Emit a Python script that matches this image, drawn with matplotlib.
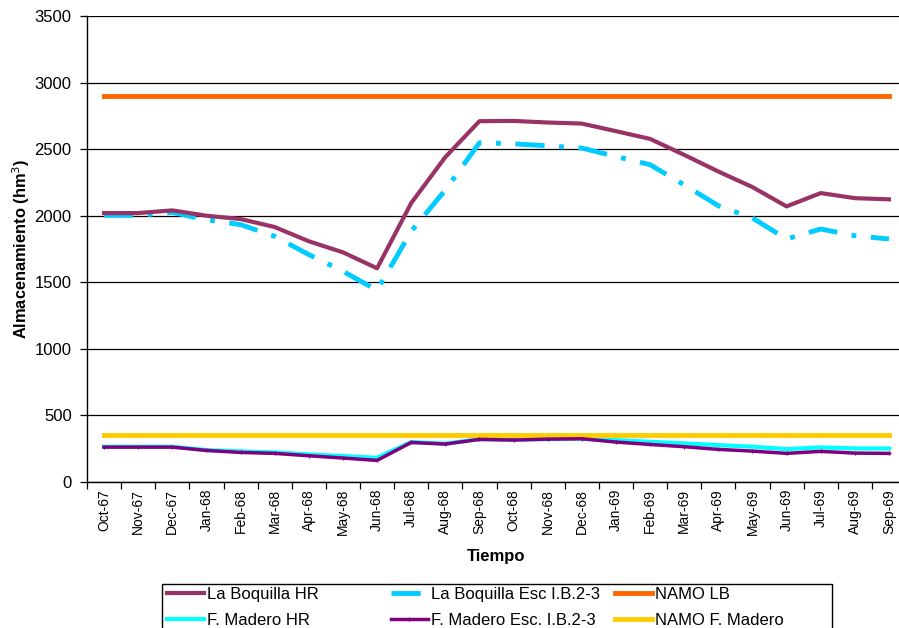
import matplotlib
matplotlib.use("Agg")
import matplotlib.pyplot as plt
from matplotlib.patches import Rectangle
import numpy as np

plt.rcParams['font.family'] = ['Liberation Sans', 'DejaVu Sans']

months = ["Oct-67", "Nov-67", "Dec-67", "Jan-68", "Feb-68", "Mar-68", "Apr-68", "May-68",
          "Jun-68", "Jul-68", "Aug-68", "Sep-68", "Oct-68", "Nov-68", "Dec-68", "Jan-69",
          "Feb-69", "Mar-69", "Apr-69", "May-69", "Jun-69", "Jul-69", "Aug-69", "Sep-69"]

la_boquilla_hr = [2020, 2020, 2040, 2000, 1975, 1915, 1808, 1725, 1605, 2095, 2440, 2710,
                  2712, 2700, 2692, 2635, 2577, 2457, 2332, 2215, 2070, 2170, 2132, 2123]
la_boquilla_esc = [2003, 2003, 2025, 1970, 1933, 1845, 1708, 1583, 1440, 1883, 2193, 2548,
                   2540, 2525, 2508, 2445, 2383, 2232, 2075, 1983, 1825, 1900, 1850, 1825]
namo_lb = [2900] * 24
f_madero_hr = [265, 265, 265, 240, 230, 222, 207, 195, 182, 300, 288, 322,
               318, 322, 325, 315, 302, 290, 277, 265, 247, 260, 252, 252]
f_madero_esc = [262, 262, 262, 237, 222, 215, 197, 180, 162, 297, 285, 320,
                315, 322, 325, 300, 282, 265, 245, 232, 215, 230, 217, 215]
namo_fm = [350] * 24

W, H = 899, 628
fig = plt.figure(figsize=(W / 100, H / 100), dpi=100)
ax = fig.add_axes([87/W, (H-482)/H, (906-87)/W, (482-16)/H])

x = np.arange(len(months))
h1, = ax.plot(x, la_boquilla_hr, color='#993366', lw=3, label='La Boquilla HR', zorder=4)
h2, = ax.plot(x, la_boquilla_esc, color='#00CCFF', lw=3.5, dashes=(6, 3, 1, 3),
              label='La Boquilla Esc I.B.2-3', zorder=3)
h3, = ax.plot(x, namo_lb, color='#FF6600', lw=3.5, label='NAMO LB', zorder=3)
h4, = ax.plot(x, f_madero_hr, color='#00FFFF', lw=3, label='F. Madero HR', zorder=3)
h5, = ax.plot(x, f_madero_esc, color='#800080', lw=2.5, marker='+', ms=3, mew=0.8,
              label='F. Madero Esc. I.B.2-3', zorder=4)
h6, = ax.plot(x, namo_fm, color='#FFCC00', lw=3.5, label='NAMO F. Madero', zorder=3)

ax.set_xlim(-0.5, len(months) - 0.5)
ax.set_ylim(0, 3500)
ax.set_yticks(np.arange(0, 3501, 500))
ax.yaxis.grid(True, color='black', lw=0.9)
ax.set_axisbelow(True)
ax.set_xticks(x)
ax.set_xticklabels(months, rotation=90, fontsize=10)
ax.set_xticks(np.arange(-0.5, len(months), 1), minor=True)
ax.tick_params(axis='x', which='major', length=0, pad=5)
ax.tick_params(axis='x', which='minor', length=5, direction='out', width=0.9)
ax.tick_params(axis='y', labelsize=12, length=5, width=0.9, direction='out', pad=6)
for s in ['top', 'right']:
    ax.spines[s].set_visible(False)
for s in ['left', 'bottom']:
    ax.spines[s].set_color('black')
    ax.spines[s].set_linewidth(1)

ax.set_xlabel('Tiempo', fontsize=12, fontweight='bold', labelpad=10)
ax.set_ylabel('Almacenamiento (hm$^3$)', fontsize=11.8, fontweight='bold', labelpad=2)

# legend: three columns placed like the reference, inside one common frame
cols = [((h1, h4), ('La Boquilla HR', 'F. Madero HR'), 167),
        ((h2, h5), ('La Boquilla Esc I.B.2-3', 'F. Madero Esc. I.B.2-3'), 391),
        ((h3, h6), ('NAMO LB', 'NAMO F. Madero'), 615)]
for hs, labs, x0 in cols:
    fig.legend(list(hs), list(labs), loc='upper left',
               bbox_to_anchor=(x0 / W, 1 - 587 / H), frameon=False,
               fontsize=12, handlelength=2.2, handletextpad=0.2,
               borderpad=0, borderaxespad=0, labelspacing=0.65)
fig.add_artist(Rectangle((162 / W, -0.02), (832 - 162) / W, (H - 584) / H + 0.02,
                         transform=fig.transFigure, fill=False, edgecolor='black',
                         lw=1, clip_on=False))

fig.savefig('out.png', dpi=100)
